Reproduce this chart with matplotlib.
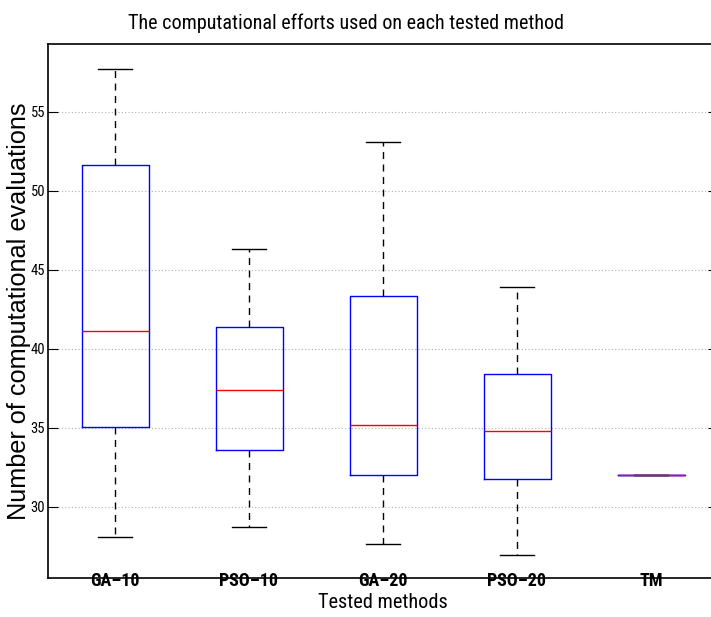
import matplotlib
matplotlib.use("Agg")
import matplotlib.pyplot as plt

# box statistics
methods = ["GA–10", "PSO–10", "GA–20", "PSO–20", "TM"]
whislo = [28.1, 28.7, 27.65, 26.98, 32.02]
q1 = [35.06, 33.59, 32.0, 31.79, 32.02]
med = [41.12, 37.39, 35.16, 34.79, 32.02]
q3 = [51.63, 41.39, 43.37, 38.42, 32.02]
whishi = [57.72, 46.31, 53.1, 43.94, 32.02]
yticks = [30, 35, 40, 45, 50, 55]

narrow = ["Roboto Condensed", "DejaVu Sans"]
regular = ["Liberation Sans", "DejaVu Sans"]

stats = []
for i in range(len(methods)):
    stats.append({"label": methods[i], "whislo": whislo[i], "q1": q1[i],
                  "med": med[i], "q3": q3[i], "whishi": whishi[i], "fliers": []})

fig = plt.figure(figsize=(7.11, 6.17), dpi=100)
ax = fig.add_axes([48 / 711, 39 / 617, 670 / 711, 534 / 617])

ax.bxp(stats, positions=range(1, len(methods) + 1), widths=0.5, capwidths=0.25,
       showfliers=False,
       boxprops=dict(color="blue", linewidth=1.0),
       medianprops=dict(color="red", linewidth=1.0),
       whiskerprops=dict(color="black", linewidth=1.0, linestyle=(0, (5, 4))),
       capprops=dict(color="black", linewidth=1.0))

ax.set_xlim(0.5, 5.5)
ax.set_ylim(25.5, 59.3)
ax.set_yticks(yticks)
ax.set_yticklabels([str(t) for t in yticks], family=narrow, fontsize=10.5)
ax.set_xticks(range(1, len(methods) + 1))
ax.set_xticklabels(methods, family=narrow, fontsize=13, fontweight="bold")
ax.tick_params(axis="x", length=0, pad=-4)
ax.tick_params(axis="y", direction="in", length=7, right=True, pad=2)

ax.grid(axis="y", linestyle=(0, (1, 2)), color="#b0b0b0", linewidth=0.8)
ax.set_axisbelow(True)
for s in ax.spines.values():
    s.set_linewidth(1.2)

ax.set_title("The computational efforts used on each tested method",
             family=narrow, fontsize=14.5, pad=11, x=0.445)
ax.set_xlabel("Tested methods", family=narrow, fontsize=14.6, labelpad=2)
ax.set_ylabel("Number of computational evaluations", family=regular, fontsize=18.2)
ax.yaxis.set_label_coords(-0.026, 0.5)

fig.savefig("out.png", dpi=100)
